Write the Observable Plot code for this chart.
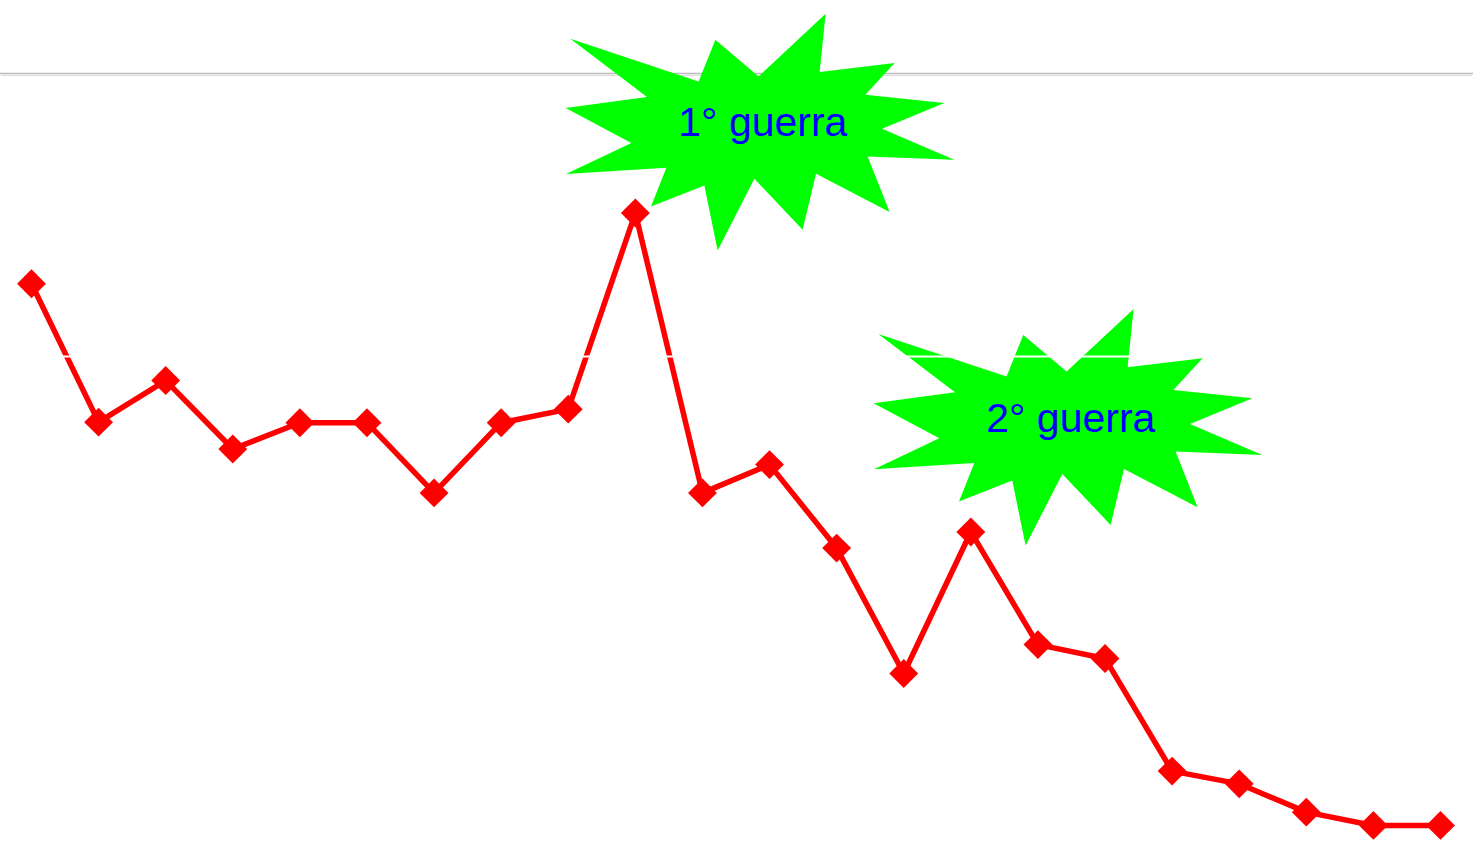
<!DOCTYPE html>
<html>
<head>
<meta charset="utf-8">
<script src="https://cdn.jsdelivr.net/npm/d3@7"></script>
<script src="https://cdn.jsdelivr.net/npm/@observablehq/plot@0.6"></script>
<style>
  html, body { margin: 0; padding: 0; background: #ffffff; }
  #chart svg { display: block; overflow: visible; }
</style>
</head>
<body>
<div id="chart"></div>
<script>
// ---- data ----
const periodi = [1, 2, 3, 4, 5, 6, 7, 8, 9, 10, 11, 12, 13, 14, 15, 16, 17, 18, 19, 20, 21, 22];
const valori = [42.57, 37.68, 39.15, 36.73, 37.66, 37.66, 35.18, 37.66, 38.14, 45.07, 35.18,
                36.18, 33.23, 28.80, 33.80, 29.82, 29.33, 25.35, 24.90, 23.90, 23.43, 23.43];
const etichette = ["1° guerra", "2° guerra"];
const etichetteX = [11.9, 16.49];
const etichetteY = [48.24, 37.81];
const lineaGrigia = [50];
const lineaBianca = [40];

// ---- tables built from the arrays ----
const serie = periodi.map((p, i) => ({periodo: p, valore: valori[i]}));
const annotazioni = etichette.map((t, i) => ({testo: t, x: etichetteX[i], y: etichetteY[i]}));

// explosion-shaped symbol (shape outline, relative to its centre, at r = 100)
const starShape = [
  [-192.5, -84.6], [-64.2, -41.9], [-47.5, -83.6], [-4.2, -46.9], [62.8, -109.6], [56.8, -51.2],
  [131.8, -60.2], [102.5, -28.6], [181.5, -20.2], [119.2, 5.4], [191.5, 36.4], [104.8, 33.1],
  [126.8, 88.8], [53.2, 50.4], [39.8, 106.4], [-8.5, 55.4], [-45.2, 127.1], [-58.5, 62.1],
  [-111.8, 83.1], [-96.5, 44.4], [-196.8, 50.8], [-131.5, 19.8], [-197.2, -15.2], [-115.8, -26.2]
];
const starburst = {
  draw(ctx, size) {
    const k = Math.sqrt(size / Math.PI) / 100;
    starShape.forEach(([x, y], i) => i ? ctx.lineTo(x * k, y * k) : ctx.moveTo(x * k, y * k));
    ctx.closePath();
  }
};

const chart = Plot.plot({
  width: 1479,
  height: 850,
  margin: 0,
  x: {domain: [1, 22], range: [31, 1440], axis: null},
  y: {domain: [40, 50], range: [356, 73], axis: null},
  marks: [
    Plot.ruleY(lineaGrigia, {stroke: "#bababa", strokeWidth: 1.3, insetRight: 6}),
    Plot.ruleY(lineaGrigia, {stroke: "#dcdcdc", strokeWidth: 1.2, dy: 2, insetLeft: 1, insetRight: 7}),
    Plot.dot(annotazioni, {x: "x", y: "y", symbol: starburst, r: 100, fill: "#00ff00", stroke: "none"}),
    Plot.text(annotazioni, {x: "x", y: "y", text: "testo", fill: "#0000ff", fontSize: 41,
      fontFamily: "Liberation Sans, Arial, sans-serif", textAnchor: "middle", lineAnchor: "middle"}),
    Plot.line(serie, {x: "periodo", y: "valore", stroke: "#ff0000", strokeWidth: 5.5, strokeLinejoin: "miter"}),
    Plot.dot(serie, {x: "periodo", y: "valore", symbol: "diamond2", r: 13, fill: "#ff0000", stroke: "none"}),
    Plot.ruleY(lineaBianca, {stroke: "#ffffff", strokeWidth: 1.8})
  ]
});
document.getElementById("chart").appendChild(chart);
</script>
</body>
</html>
